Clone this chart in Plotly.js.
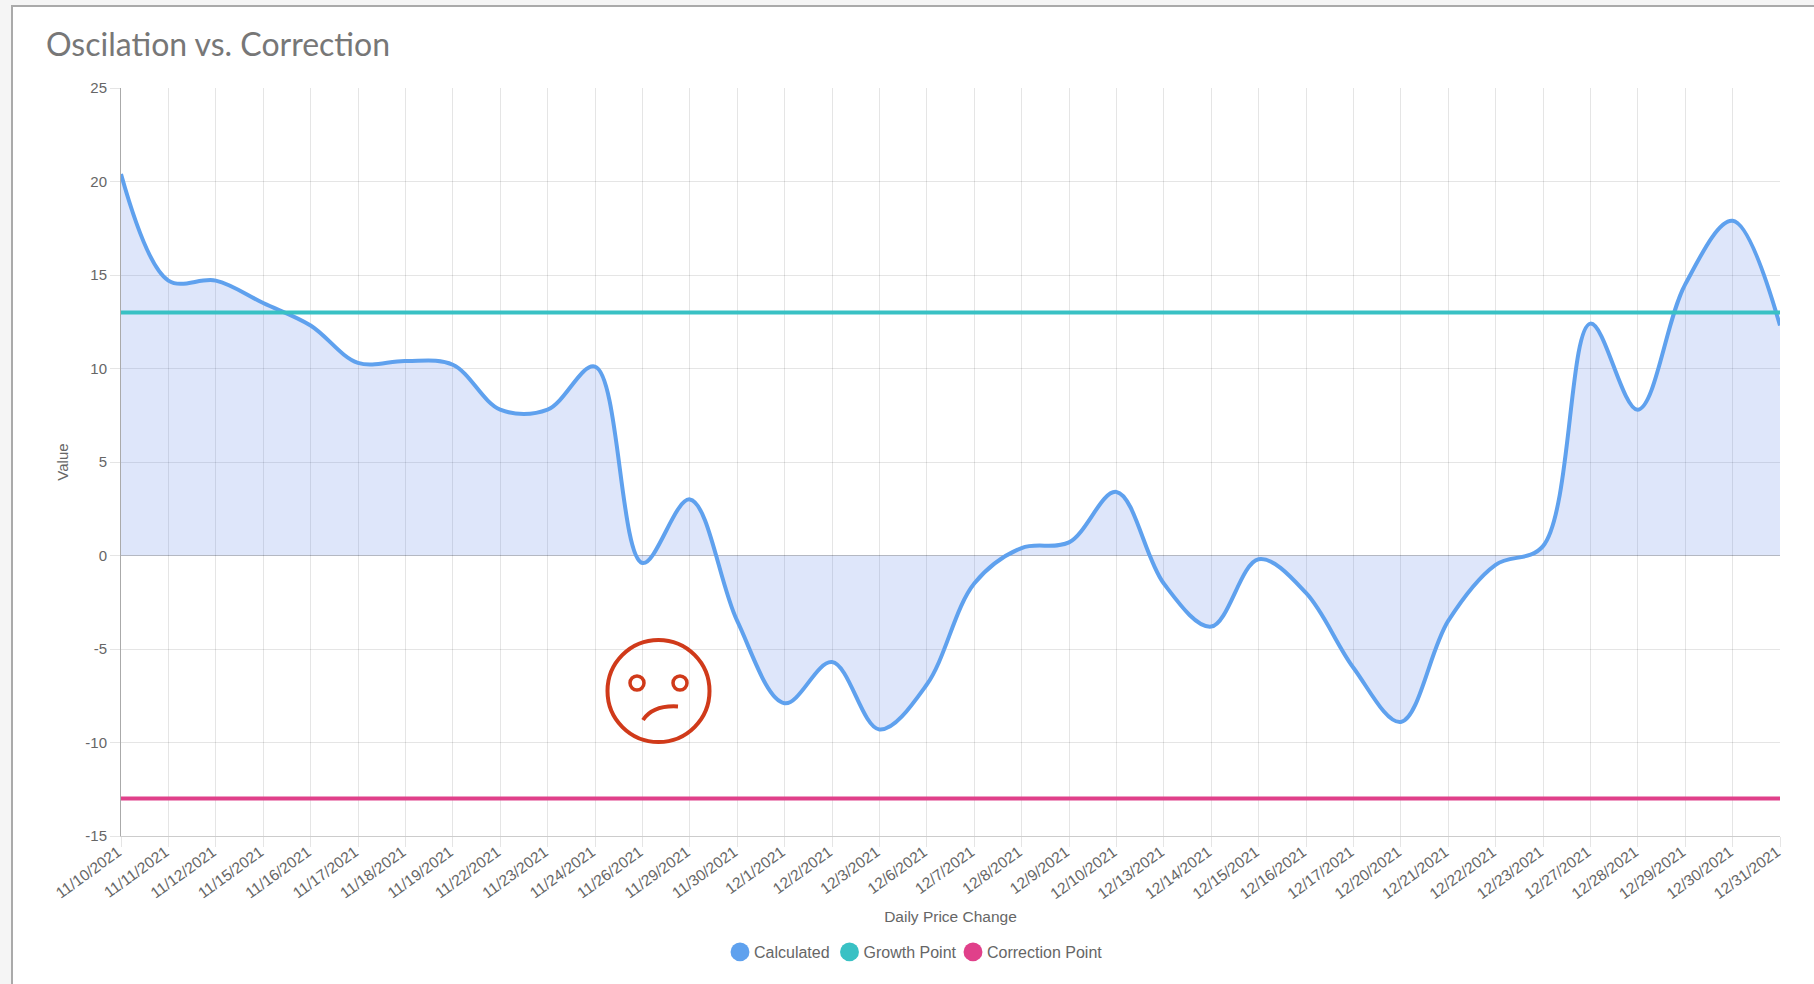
<!DOCTYPE html>
<html>
<head>
<meta charset="utf-8">
<script src="https://cdn.plot.ly/plotly-3.0.1.min.js"></script>
<style>
html,body{margin:0;padding:0;background:#f5f5f5;overflow:hidden;width:1814px;height:984px}
#panel{position:absolute;left:11px;top:5px;right:-5px;bottom:-5px;background:#fff;border:2px solid #aaa}
#chart{position:absolute;left:0;top:0;width:1814px;height:984px}
</style>
</head>
<body>
<div id="panel"></div>
<div id="chart"></div>
<script>
const dates = ["11/10/2021","11/11/2021","11/12/2021","11/15/2021","11/16/2021","11/17/2021","11/18/2021","11/19/2021","11/22/2021","11/23/2021","11/24/2021","11/26/2021","11/29/2021","11/30/2021","12/1/2021","12/2/2021","12/3/2021","12/6/2021","12/7/2021","12/8/2021","12/9/2021","12/10/2021","12/13/2021","12/14/2021","12/15/2021","12/16/2021","12/17/2021","12/20/2021","12/21/2021","12/22/2021","12/23/2021","12/27/2021","12/28/2021","12/29/2021","12/30/2021","12/31/2021"];
const calculated = [20.4,14.7,14.7,13.5,12.3,10.3,10.4,10.2,7.8,7.8,10.1,-0.4,3.0,-3.5,-7.9,-5.7,-9.3,-6.9,-1.5,0.4,0.7,3.4,-1.5,-3.8,-0.2,-2.0,-6.0,-8.9,-3.5,-0.5,0.5,12.4,7.8,14.5,17.9,12.3];
const growthPoint = dates.map(() => 13);
const correctionPoint = dates.map(() => -13);
const seriesNames = ["Calculated","Growth Point","Correction Point"];
const seriesColors = ["#5fa1ee","#39c1c4","#e0408a"];
const yTicks = [-15,-10,-5,0,5,10,15,20,25];
const yTickText = ["-15","-10","-5","0","5","10","15","20","25"];

const textColor = "#666";
const gridColor = "rgba(0,0,0,0.1)";
const faceColor = "#d03a1a";

const traces = [
  {x:dates,y:calculated,type:"scatter",mode:"lines",fill:"tozeroy",fillcolor:"rgba(78,121,226,0.19)",
   line:{color:seriesColors[0],width:4,shape:"spline",smoothing:1},showlegend:false,hoverinfo:"x+y"},
  {x:dates,y:growthPoint,type:"scatter",mode:"lines",line:{color:seriesColors[1],width:4},showlegend:false},
  {x:dates,y:correctionPoint,type:"scatter",mode:"lines",line:{color:seriesColors[2],width:4},showlegend:false}
];
seriesNames.forEach((n,i)=>traces.push({x:[null],y:[null],type:"scatter",mode:"markers",name:n,
  marker:{color:seriesColors[i],size:16,symbol:"circle"},showlegend:true}));

// Decorative face, placed in page pixels (converted to the plot-area fractions that "paper" uses)
const W=1814,H=984, L=121,R=34,T=88,B=148;
const px=v=>(v-L)/(W-L-R), py=v=>(H-B-v)/(H-T-B);
function ell(cx,cy,rx,ry,w){return {type:"circle",xref:"paper",yref:"paper",x0:px(cx-rx),x1:px(cx+rx),y0:py(cy+ry),y1:py(cy-ry),
  line:{color:faceColor,width:w},fillcolor:"rgba(0,0,0,0)",layer:"above"};}

const layout = {
  width:W,height:H,
  paper_bgcolor:"rgba(0,0,0,0)",plot_bgcolor:"rgba(0,0,0,0)",
  margin:{l:L,r:R,t:T,b:B,pad:0},
  font:{family:'"Liberation Sans",Arial,sans-serif',size:15,color:textColor},
  title:{text:"Oscilation vs. Correction",font:{family:"Lato",size:32,color:"#777"},
    x:46/W,xanchor:"left",xref:"container",y:1-45/H,yanchor:"middle",yref:"container"},
  xaxis:{type:"category",range:[0,35],tickmode:"array",tickvals:dates,ticktext:dates,tickangle:-36,
    showgrid:true,gridcolor:gridColor,gridwidth:1,zeroline:false,
    ticks:"outside",ticklen:10,tickcolor:gridColor,tickwidth:1,
    ticklabelstandoff:-10,ticklabelshift:-3,
    showline:true,linecolor:"#ccc",linewidth:1,
    tickfont:{size:15.5,color:textColor},
    title:{text:"Daily Price Change",font:{size:15.5,color:textColor},standoff:10}},
  yaxis:{range:[-15,25],tickmode:"array",tickvals:yTicks,ticktext:yTickText,
    showgrid:true,gridcolor:gridColor,gridwidth:1,
    zeroline:true,zerolinecolor:"rgba(0,0,0,0.25)",zerolinewidth:1,
    ticks:"outside",ticklen:10,tickcolor:gridColor,tickwidth:1,
    showline:true,linecolor:"#aaa",linewidth:1,
    tickfont:{size:15,color:textColor},
    title:{text:"Value",font:{size:15,color:textColor},standoff:13}},
  legend:{orientation:"h",x:850/W,xanchor:"center",xref:"container",y:1-952/H,yanchor:"middle",yref:"container",
    font:{size:16,color:textColor},itemwidth:30,bgcolor:"rgba(0,0,0,0)"},
  shapes:[
    ell(658.5,691,51,51,4),
    ell(637,683,7,7,3.5),
    ell(680,683,7,7,3.5),
    {type:"path",xref:"paper",yref:"paper",
     path:`M ${px(643)} ${py(720)} Q ${px(653)} ${py(705)} ${px(678)} ${py(706.5)}`,
     line:{color:faceColor,width:4},layer:"above"}
  ]
};
const legendCircleX = [740,849.5,973];
Plotly.newPlot("chart",traces,layout,{displayModeBar:false,responsive:false}).then(()=>{
  // Tighten the native legend to the reference's spacing and dot size
  const root=document.querySelector("#chart .legend");
  const m=/translate\(([-\d.]+)[ ,]*([-\d.]*)/.exec(root.getAttribute("transform")||"");
  const x0=m?parseFloat(m[1]):0;
  document.querySelectorAll("#chart .legend .traces").forEach((g,i)=>{
    const t=/translate\(([-\d.]+)[ ,]*([-\d.]*)/.exec(g.getAttribute("transform")||"");
    const y=t&&t[2]?parseFloat(t[2]):0;
    g.setAttribute("transform",`translate(${legendCircleX[i]-x0},${y})`);
    g.querySelectorAll(".legendpoints path").forEach(p=>p.setAttribute("transform","translate(0,0) scale(1.18)"));
    const tx=g.querySelector(".legendtext");
    if(tx) tx.setAttribute("x",14);
  });
  const clip=root.querySelector("clipPath rect"); if(clip){clip.setAttribute("width",500);}
  const bg=root.querySelector(".legendbg"); if(bg){bg.setAttribute("width",500);}
  const sb=root.querySelector(".scrollbox"); if(sb){sb.removeAttribute("clip-path");}
});
</script>
</body>
</html>
